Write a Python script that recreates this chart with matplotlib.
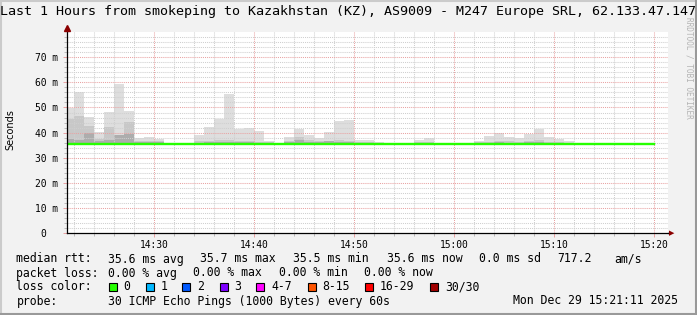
"""
Smokeping latency chart: last 1 hour to Kazakhstan (KZ)
"""
import matplotlib
matplotlib.use('Agg')
import matplotlib.pyplot as plt
from matplotlib.patches import Rectangle
from matplotlib.lines import Line2D

matplotlib.rcParams['font.family'] = ['DejaVu Sans Mono']

# canvas size in px
W, H = 697, 315

# one step per minute, minutes after 14:00 (14:21 .. 15:19)
minutes = list(range(21, 80))

# smoke layers (ms)
smoke_max = [49.6, 56.0, 46.3, 40.3, 48.3, 59.2, 48.7, 37.7, 38.1, 37.4,
             36.0, 35.9, 36.0, 39.0, 42.2, 45.4, 55.3, 41.4, 41.9, 40.5,
             36.6, 35.9, 38.2, 41.4, 39.0, 38.0, 40.1, 44.6, 45.0, 36.9,
             36.9, 36.3, 36.0, 35.9, 36.0, 37.0, 38.0, 36.0, 36.0, 36.0,
             36.0, 36.6, 38.7, 39.9, 38.1, 37.7, 39.4, 41.4, 38.3, 37.4,
             36.6, 36.0, 36.0, 36.0, 36.0, 36.0, 36.0, 35.9, 35.9]
smoke_mid = [45.6, 46.8, 42.5, 37.6, 42.3, 39.2, 44.3, 36.8, 36.6, 36.5,
             35.9, 35.8, 35.9, 36.5, 36.8, 36.9, 37.0, 36.7, 36.6, 36.4,
             36.2, 35.8, 36.8, 38.3, 36.9, 36.6, 36.4, 36.9, 36.8, 36.2,
             36.2, 35.9, 35.9, 35.8, 35.9, 36.2, 36.3, 35.9, 35.9, 35.9,
             35.9, 36.1, 36.4, 36.8, 36.5, 36.4, 36.8, 37.0, 36.4, 36.2,
             36.0, 35.9, 35.9, 35.9, 35.9, 35.9, 35.9, 35.8, 35.8]
smoke_low = [37.6, 37.2, 39.8, 36.8, 36.9, 38.9, 39.4, 36.3, 36.2, 36.1,
             35.8, 35.7, 35.8, 36.0, 36.1, 36.2, 36.2, 36.1, 36.1, 36.0,
             35.9, 35.7, 36.1, 37.2, 36.3, 36.2, 36.6, 36.3, 36.3, 35.9,
             35.9, 35.8, 35.8, 35.7, 35.8, 35.9, 35.9, 35.8, 35.8, 35.8,
             35.8, 35.9, 36.0, 36.1, 36.0, 36.0, 36.2, 36.3, 36.0, 35.9,
             35.8, 35.8, 35.8, 35.8, 35.8, 35.8, 35.8, 35.7, 35.7]
smoke_min = [35.3, 35.3, 35.3, 35.3, 35.3, 35.3, 35.3, 35.3, 35.3, 35.3,
             35.3, 35.3, 35.3, 35.3, 35.3, 35.3, 35.3, 35.3, 35.3, 35.3,
             35.3, 35.3, 35.3, 35.3, 35.3, 35.3, 35.3, 35.3, 35.3, 35.3,
             35.3, 35.3, 35.3, 35.3, 35.3, 35.3, 35.3, 35.3, 35.3, 35.3,
             35.3, 35.3, 35.3, 35.3, 35.3, 35.3, 35.3, 35.3, 35.3, 35.3,
             35.3, 35.3, 35.3, 35.3, 35.3, 35.3, 35.3, 35.3, 35.3]
median_rtt = [35.6, 35.6, 35.6, 35.6, 35.6, 35.65, 35.65, 35.6, 35.6, 35.6,
              35.6, 35.6, 35.6, 35.6, 35.6, 35.6, 35.65, 35.6, 35.6, 35.6,
              35.6, 35.6, 35.6, 35.6, 35.6, 35.6, 35.6, 35.6, 35.6, 35.6,
              35.6, 35.6, 35.6, 35.6, 35.6, 35.6, 35.6, 35.6, 35.6, 35.6,
              35.6, 35.6, 35.6, 35.6, 35.6, 35.6, 35.6, 35.6, 35.6, 35.6,
              35.6, 35.6, 35.6, 35.6, 35.6, 35.6, 35.6, 35.6, 35.6]

x_ticks = [30, 40, 50, 60, 70, 80]
x_labels = ['14:30', '14:40', '14:50', '15:00', '15:10', '15:20']
y_ticks = [0, 10, 20, 30, 40, 50, 60, 70]
y_labels = ['0  ', '10 m', '20 m', '30 m', '40 m', '50 m', '60 m', '70 m']

loss_labels = ['0', '1', '2', '3', '4-7', '8-15', '16-29', '30/30']
loss_colors = ['#26ff00', '#00b8ff', '#0059ff', '#7e00ff',
               '#ff00ff', '#ff5500', '#ff0000', '#a10000']


def fx(x):
    return x / W


def fy(y):
    return 1 - y / H


def main():
    fig = plt.figure(figsize=(W / 100, H / 100), dpi=100, facecolor='#f2f2f2')

    # plot area: x 67..668 px, y 32..233.3 px
    left, right, top, bottom = 67, 668, 32, 233.3
    ax = fig.add_axes([fx(left), fy(bottom), fx(right - left), (bottom - top) / H])
    ax.set_facecolor('white')
    ax.set_xlim(21.27, 81.37)
    ax.set_ylim(0, 80)

    xs = minutes + [minutes[-1] + 1]
    ext = lambda v: v + [v[-1]]
    ax.fill_between(xs, ext(smoke_min), ext(smoke_max), step='post',
                    color='#dedede', lw=0, zorder=1)
    ax.fill_between(xs, ext(smoke_min), ext(smoke_mid), step='post',
                    color='#c8c8c8', lw=0, zorder=1.1)
    ax.fill_between(xs, ext(smoke_min), ext(smoke_low), step='post',
                    color='#adadad', lw=0, zorder=1.2)

    # grid
    for m in range(22, 82, 2):
        if m % 10:
            ax.axvline(m, color='#cfcfcf', lw=0.75, ls=(0, (1, 1)), zorder=2)
    for v in range(2, 80, 2):
        if v % 10:
            ax.axhline(v, color='#cfcfcf', lw=0.75, ls=(0, (1, 1)), zorder=2)
    for m in x_ticks:
        ax.axvline(m, color='#e9a3a3', lw=0.75, ls=(0, (1, 1)), zorder=2.1)
    for v in y_ticks[1:]:
        ax.axhline(v, color='#e9a3a3', lw=0.75, ls=(0, (1, 1)), zorder=2.1)

    # median line
    ax.step(xs, ext(median_rtt), where='post', color='#26ff00', lw=1.7, zorder=3)

    ax.set_xticks(x_ticks)
    ax.set_xticklabels(x_labels, fontsize=6.9)
    ax.set_yticks(y_ticks)
    ax.set_yticklabels(y_labels, fontsize=6.9)
    ax.set_xticks(range(22, 82, 2), minor=True)
    ax.set_yticks(range(2, 80, 2), minor=True)
    ax.tick_params(axis='both', which='major', length=3, width=0.7,
                   color='#e9a3a3', direction='out')
    ax.tick_params(axis='both', which='minor', length=2, width=0.7,
                   color='#bbbbbb', direction='out')
    ax.tick_params(axis='x', which='major', pad=1.5)
    ax.tick_params(axis='y', which='major', pad=3.5)

    for s in ['top', 'right']:
        ax.spines[s].set_visible(False)
    for s in ['left', 'bottom']:
        ax.spines[s].set_color('black')
        ax.spines[s].set_linewidth(0.9)
        ax.spines[s].set_zorder(4)

    # axis arrows
    ax.plot([21.27], [81.6], marker='^', color='#8b0000', markersize=4.5,
            clip_on=False, zorder=5)
    fig.add_artist(Line2D([fx(668), fx(670)], [fy(233.3), fy(233.3)],
                          color='black', lw=0.9))
    fig.text(fx(671.5), fy(233.3), '\u25B6', color='#8b0000', fontsize=5,
             ha='center', va='center', family='DejaVu Sans')

    # texts
    fig.text(fx(689), fy(68), 'RRDTOOL / TOBI OETIKER', rotation=270,
             ha='center', va='center', fontsize=5.6, color='#b4b4b4')
    fig.text(0.5, fy(11), 'Last 1 Hours from smokeping to Kazakhstan (KZ), '
             'AS9009 - M247 Europe SRL, 62.133.47.147',
             ha='center', va='center', fontsize=9.6)
    fig.text(fx(10.5), fy(130), 'Seconds', rotation=90, ha='center',
             va='center', fontsize=7, family='DejaVu Sans')

    fs = 8.3
    rows = {
        259: [(16.4, 'median rtt:'), (107.6, '35.6 ms avg'), (200, '35.7 ms max'),
              (293.3, '35.5 ms min'), (386.7, '35.6 ms now'), (479, '0.0 ms sd'),
              (557, '717.2'), (614.7, 'am/s')],
        273: [(16.4, 'packet loss:'), (107.6, '0.00 % avg'), (193.3, '0.00 % max'),
              (279, '0.00 % min'), (364.4, '0.00 % now')],
        287: [(16.4, 'loss color:')],
        301: [(16.4, 'probe:'),
              (107.6, '30 ICMP Echo Pings (1000 Bytes) every 60s'),
              (513.3, 'Mon Dec 29 15:21:11 2025')],
    }
    for y, items in rows.items():
        for x, t in items:
            fig.text(fx(x), fy(y), t, ha='left', va='center', fontsize=fs)

    box_x = [108.9, 145.8, 182.2, 219.6, 256.4, 307.6, 365.3, 430.2]
    for bx, lab, col in zip(box_x, loss_labels, loss_colors):
        fig.add_artist(Rectangle((fx(bx), fy(291)), fx(8), 8 / H,
                                 facecolor=col, edgecolor='black', lw=0.8))
        fig.text(fx(bx + 14.7), fy(287), lab, ha='left', va='center', fontsize=fs)

    # frame shading
    fig.add_artist(Line2D([fx(0.5), fx(0.5)], [0, 1], color='#cbcbcb', lw=1.5))
    fig.add_artist(Line2D([0, 1], [fy(0.5), fy(0.5)], color='#cbcbcb', lw=1.5))
    fig.add_artist(Line2D([fx(696), fx(696)], [0, 1], color='#999999', lw=1.5))
    fig.add_artist(Line2D([0, 1], [fy(314.3), fy(314.3)], color='#999999', lw=1.5))

    fig.savefig('out.png', dpi=100, facecolor=fig.get_facecolor())


if __name__ == '__main__':
    main()
